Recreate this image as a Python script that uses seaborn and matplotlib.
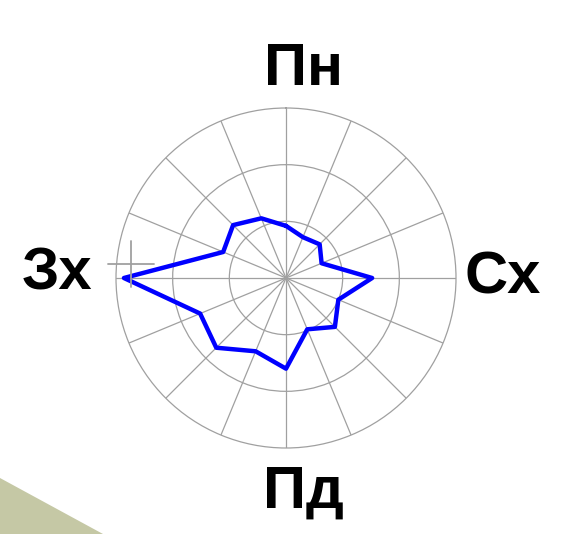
import numpy as np
import pandas as pd
import seaborn as sns
import matplotlib.pyplot as plt
from matplotlib.lines import Line2D
from matplotlib.patches import Polygon

sns.set_style("white")
plt.rcParams['font.family'] = ['Liberation Sans', 'DejaVu Sans']

# wind directions, clockwise from north, and frequency (%)
directions = ["Пн", "ПнПнСх", "ПнСх", "СхПнСх", "Сх", "СхПдСх", "ПдСх", "ПдПдСх",
              "Пд", "ПдПдЗх", "ПдЗх", "ЗхПдЗх", "Зх", "ЗхПнЗх", "ПнЗх", "ПнПнЗх"]
freq = [4.6, 3.9, 4.2, 3.4, 7.6, 5.0, 6.1, 4.9,
        8.0, 7.0, 8.7, 8.2, 14.3, 6.0, 6.6, 5.7]
side_labels = ["Пн", "Сх", "Пд", "Зх"]

W, H = 565, 534
fig = plt.figure(figsize=(W / 100, H / 100), dpi=100)

# decorative slide corner
fig.patches.append(Polygon([(0, 0), (103 / W, 0), (0, (534 - 478) / H)],
                           closed=True, transform=fig.transFigure,
                           facecolor="#c5c8a5", edgecolor="none"))

cx, cy, R = 286, 278, 170
ax = fig.add_axes([(cx - R) / W, (H - cy - R) / H, 2 * R / W, 2 * R / H],
                  projection="polar")
ax.set_theta_zero_location("N")
ax.set_theta_direction(-1)

theta = np.arange(len(freq)) * 2 * np.pi / len(freq)
df = pd.DataFrame({"theta": np.append(theta, 2 * np.pi),
                   "freq": freq + freq[:1]})
sns.lineplot(data=df, x="theta", y="freq", sort=False, ax=ax,
             color="#0000ff", linewidth=3.2)

ax.set_ylim(0, 15)
ax.set_yticks([5, 10])
ax.set_yticklabels([])
ax.set_xticks(theta)
ax.set_xticklabels([])
ax.set_xlabel("")
ax.set_ylabel("")
ax.grid(True, color="#a0a0a0", linewidth=0.9)
ax.spines["polar"].set_color("#a0a0a0")
ax.spines["polar"].set_linewidth(0.9)

# direction labels
pos = {"Пн": (303, 85), "Сх": (503, 294), "Пд": (303, 508), "Зх": (57, 290)}
for lab in side_labels:
    x, y = pos[lab]
    fig.text(x / W, (H - y) / H, lab, ha="center", va="baseline",
             fontsize=43, fontweight="bold", color="black")

# small cross marker near west
mx, my, a = 131, 264, 23
fig.add_artist(Line2D([(mx - a) / W, (mx + a) / W], [(H - my) / H] * 2,
                      transform=fig.transFigure, color="#a0a0a0", linewidth=1.3))
fig.add_artist(Line2D([mx / W] * 2, [(H - my - a) / H, (H - my + a) / H],
                      transform=fig.transFigure, color="#a0a0a0", linewidth=1.3))

fig.savefig("out.png", dpi=100)
